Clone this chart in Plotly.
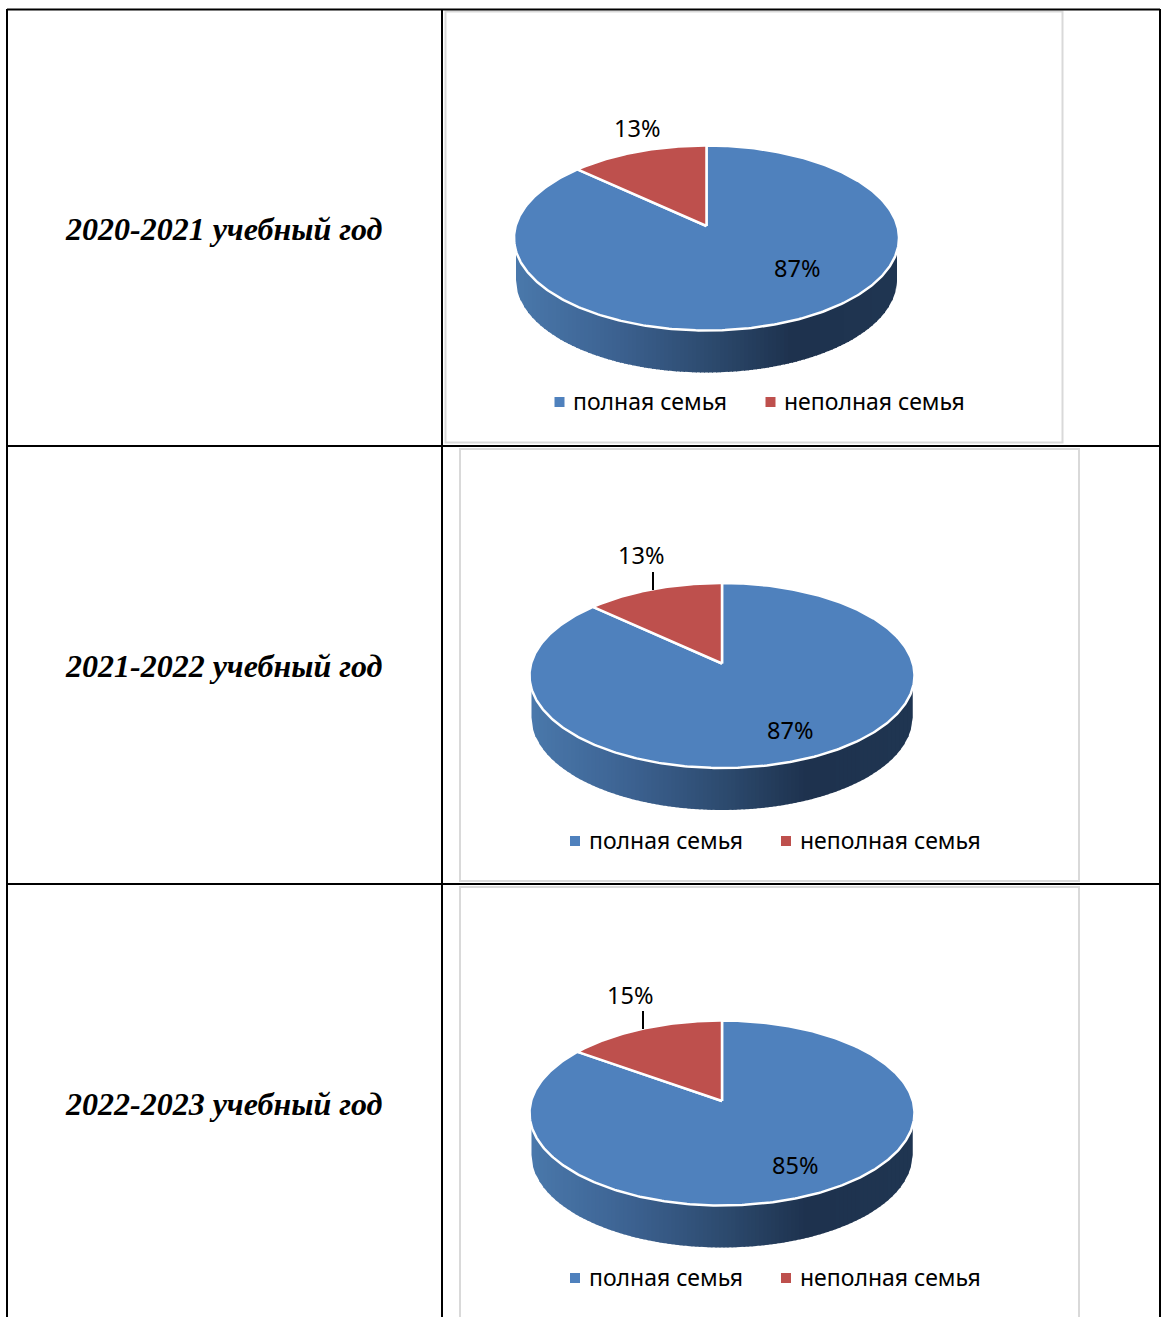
import numpy as np
import plotly.graph_objects as go

# ---- data ----
years = ["2020-2021 учебный год", "2021-2022 учебный год", "2022-2023 учебный год"]
categories = ["полная семья", "неполная семья"]
full_family = [87, 87, 85]
single_parent = [13, 13, 15]

# ---- layout / style ----
W, H = 1161, 1317
BLUE, RED = "#4f81bd", "#be504d"
FORESHORTEN = 0.90
RX, RY, DEPTH, SIDE_RX, APEX_UP = 192.5, 92.5, 42, 190.5, 12
pie_centers = [(706.5, 238), (722, 675.5), (722, 1113)]
full_label_pos = [(797, 268), (789.5, 730), (795, 1165)]
small_label_pos = [(637, 128), (640.5, 555), (629.5, 995)]
leaders = [None, (653, 572, 590), (643, 1011, 1029)]
title_ys = [228.5, 665.5, 1103.5]
legend_y = [402, 841, 1278]
legend_x = [(559.5, 573, 770.5, 784), (575, 588.5, 786, 799.5), (575, 588.5, 786, 799.5)]
frames = [(445.5, 11.5, 1062.5, 442.5), (460, 449, 1079, 881), (460, 887, 1079, 1340)]
grad_stops = [(0.0, (74, 120, 171)), (0.25, (61, 99, 146)), (0.5, (45, 75, 111)),
              (0.72, (30, 50, 78)), (1.0, (32, 54, 82))]

fig = go.Figure()


def side_color(t):
    ts = [s[0] for s in grad_stops]
    return "rgb(%d,%d,%d)" % tuple(
        np.interp(t, ts, [s[1][i] for s in grad_stops]) for i in range(3))


def rim(cx, cy, a0, a1, n=160):
    a = np.radians(np.linspace(a0, a1, n))
    return cx - RX * np.sin(a), cy - RY * np.cos(a)


for i, (cx, cy) in enumerate(pie_centers):
    # side wall, drawn as narrow overlapping strips for the horizontal gradient
    edges = np.arange(cx - SIDE_RX, cx + SIDE_RX, 4.0)
    for x0 in edges:
        x1 = min(x0 + 5.0, cx + SIDE_RX)
        xs = np.linspace(x0, x1, 4)
        top = cy + RY * np.sqrt(np.clip(1 - ((xs - cx) / RX) ** 2, 0, 1)) - 3
        bot = cy + DEPTH + RY * np.sqrt(np.clip(1 - ((xs - cx) / SIDE_RX) ** 2, 0, 1))
        fig.add_trace(go.Scatter(
            x=np.r_[xs, xs[::-1]], y=np.r_[top, bot[::-1]], mode="lines", fill="toself",
            fillcolor=side_color((x0 - cx + SIDE_RX) / (2 * SIDE_RX)),
            line=dict(width=0), hoverinfo="skip", showlegend=False))

    # top face: angles come from the values
    red_angle = 360 * single_parent[i] / (full_family[i] + single_parent[i]) * FORESHORTEN
    ax, ay = cx, cy - APEX_UP
    bx, by = rim(cx, cy, red_angle, 360, 400)
    rx_, ry_ = rim(cx, cy, 0, red_angle, 80)
    for xs, ys, col, name in ((bx, by, BLUE, categories[0]), (rx_, ry_, RED, categories[1])):
        fig.add_trace(go.Scatter(
            x=np.r_[ax, xs, ax], y=np.r_[ay, ys, ay], mode="lines", fill="toself",
            fillcolor=col, line=dict(color="white", width=2.5), name=name,
            hoverinfo="name", showlegend=False))

    # legend swatches
    mx0, tx0, mx1, tx1 = legend_x[i]
    fig.add_trace(go.Scatter(
        x=[mx0, mx1], y=[legend_y[i], legend_y[i]], mode="markers",
        marker=dict(symbol="square", size=10, color=[BLUE, RED], line=dict(width=0)),
        hoverinfo="skip", showlegend=False))
    for x_, label in ((tx0, categories[0]), (tx1, categories[1])):
        fig.add_annotation(x=x_, y=legend_y[i] - 1, text=label, showarrow=False, xanchor="left",
                           yanchor="middle", xshift=-2,
                           font=dict(family="Noto Sans", size=23, color="#000000"))

    # data labels
    for (lx, ly), val in ((full_label_pos[i], full_family[i]), (small_label_pos[i], single_parent[i])):
        fig.add_annotation(x=lx, y=ly, text=f"{val}%", showarrow=False, xanchor="center",
                           yanchor="middle",
                           font=dict(family="Noto Sans", size=23.5, color="#000000"))
    if leaders[i]:
        lx, y0, y1 = leaders[i]
        fig.add_shape(type="line", x0=lx, x1=lx, y0=y0, y1=y1,
                      line=dict(color="#000000", width=2), layer="above")

    # row heading
    fig.add_annotation(x=223.5, y=title_ys[i], text=f"<b><i>{years[i]}</i></b>", showarrow=False,
                       xanchor="center", yanchor="middle",
                       font=dict(family="Liberation Serif", size=32, color="#000000"))

# chart frames (light grey) and table rules (black)
for x0, y0, x1, y1 in frames:
    fig.add_shape(type="rect", x0=x0, y0=y0, x1=x1, y1=y1,
                  line=dict(color="#d9d9d9", width=2), layer="below")
for x_ in (7, 442, 1160):
    fig.add_shape(type="line", x0=x_, x1=x_, y0=9, y1=H, line=dict(color="#000000", width=2))
for y_ in (9.5, 446, 884):
    fig.add_shape(type="line", x0=7, x1=1160, y0=y_, y1=y_, line=dict(color="#000000", width=2))

fig.update_layout(
    width=W, height=H, margin=dict(l=0, r=0, t=0, b=0), autosize=False,
    paper_bgcolor="white", plot_bgcolor="white", showlegend=False,
    xaxis=dict(range=[0, W], visible=False, fixedrange=True, domain=[0, 1]),
    yaxis=dict(range=[H, 0], visible=False, fixedrange=True, domain=[0, 1]),
)
fig.write_html("out.html", config={"displayModeBar": False},
               post_script="document.body.style.margin='0';document.documentElement.style.overflow='hidden';")
